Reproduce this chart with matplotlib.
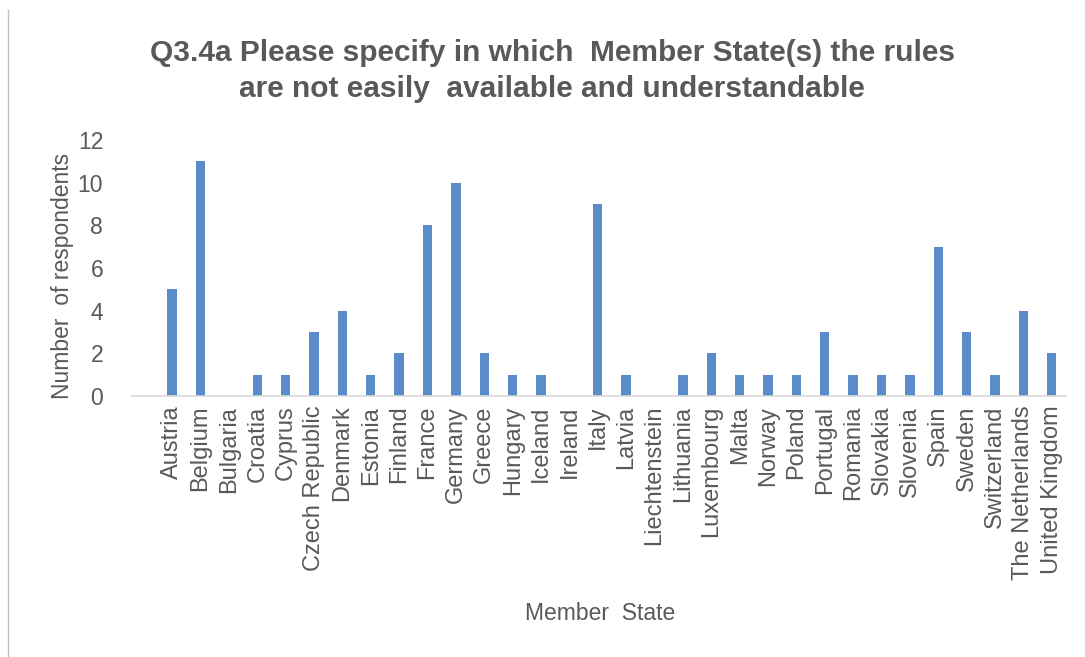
import matplotlib
matplotlib.use("Agg")
import matplotlib.pyplot as plt
from matplotlib.lines import Line2D

countries = [
    "Austria", "Belgium", "Bulgaria", "Croatia", "Cyprus", "Czech Republic",
    "Denmark", "Estonia", "Finland", "France", "Germany", "Greece", "Hungary",
    "Iceland", "Ireland", "Italy", "Latvia", "Liechtenstein", "Lithuania",
    "Luxembourg", "Malta", "Norway", "Poland", "Portugal", "Romania",
    "Slovakia", "Slovenia", "Spain", "Sweden", "Switzerland",
    "The Netherlands", "United Kingdom",
]
respondents = [5, 11, 0, 1, 1, 3, 4, 1, 2, 8, 10, 2, 1, 1, 0, 9, 1, 0, 1, 2,
               1, 1, 1, 3, 1, 1, 1, 7, 3, 1, 4, 2]
y_ticks = [0, 2, 4, 6, 8, 10, 12]

text_grey = "#595959"
plt.rcParams["font.family"] = ["Liberation Sans", "DejaVu Sans"]

fig = plt.figure(figsize=(10.85, 6.57), dpi=100)
ax = fig.add_axes([131 / 1085, 1 - 396 / 657, (1066 - 131) / 1085, (396 - 140) / 657])

x = list(range(len(countries)))
ax.bar(x, respondents, width=0.33, color="#5B8BC9", zorder=2)

# axis line runs a bit further left than the first category
ax.set_xlim(-1.45, len(countries) - 0.5)
ax.set_ylim(0, 12)
ax.set_yticks(y_ticks)
ax.set_yticklabels([str(t) for t in y_ticks], fontsize=16.5, color=text_grey)
ax.set_xticks(x)
ax.set_xticklabels(countries, rotation=90, fontsize=17, color=text_grey)
ax.tick_params(axis="both", length=0)
ax.tick_params(axis="x", pad=7)
ax.tick_params(axis="y", pad=20)

for side in ["top", "right", "left"]:
    ax.spines[side].set_visible(False)
ax.spines["bottom"].set_color("#D9D9D9")
ax.spines["bottom"].set_linewidth(1.2)

fig.text(62 / 1085, 1 - 276 / 657, "Number  of respondents", fontsize=16.5,
         color=text_grey, rotation=90, ha="center", va="center")
fig.text(600 / 1085, 1 - 613 / 657, "Member  State", fontsize=16.5, color=text_grey,
         ha="center", va="center")

fig.text(552 / 1085, 1 - 71 / 657,
         "Q3.4a Please specify in which  Member State(s) the rules\n"
         "are not easily  available and understandable",
         fontsize=21.5, fontweight="bold", color=text_grey, ha="center",
         va="center", linespacing=1.35)

# chart area border on the left
fig.add_artist(Line2D([8 / 1085, 8 / 1085], [0, 1 - 10 / 657], color="#BFBFBF",
                      linewidth=1, transform=fig.transFigure))

fig.savefig("out.png", dpi=100)
